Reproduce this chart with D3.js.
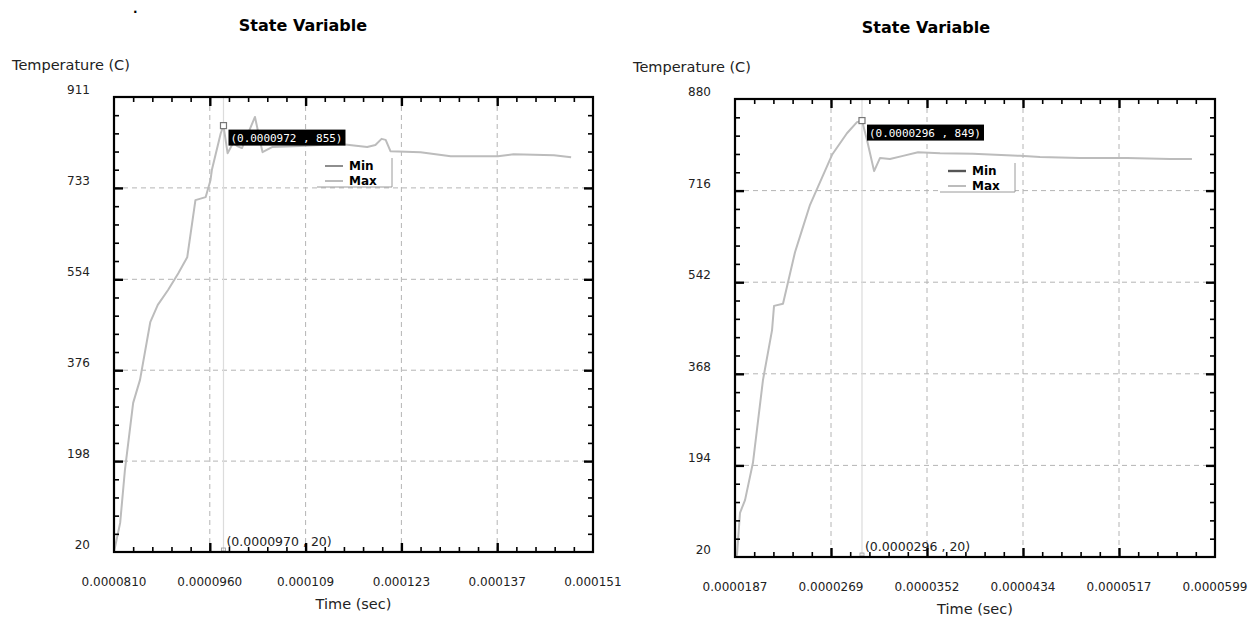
<!DOCTYPE html>
<html>
<head>
<meta charset="utf-8">
<script src="https://cdn.jsdelivr.net/npm/d3@7"></script>
<style>
  body { margin: 0; background: #fff; }
  svg { display: block; }
</style>
</head>
<body>
<svg id="chart" width="1250" height="617"></svg>
<script>
// times are in microseconds, temperatures in C

// left panel
const leftTime = [81.0, 81.9, 82.6, 83.8, 84.8, 86.3, 87.4, 88.9, 90.4, 91.7, 92.9, 94.4, 95.1, 95.3, 96.6, 97.0, 97.6, 98.4, 99.0, 99.7, 101.6, 102.7, 104.1, 108.2, 114.1, 118.0, 119.2, 120.1, 120.7, 121.4, 125.8, 130.2, 137.1, 139.4, 145.3, 147.8];
const leftMax  = [20, 77, 181, 312, 357, 470, 504, 533, 566, 597, 709, 715, 748, 768, 840, 855, 801, 821, 815, 811, 872, 803, 813, 815, 819, 813, 817, 829, 827, 805, 803, 795, 795, 799, 797, 793];
const leftXTicks = [81, 95, 109, 123, 137, 151];
const leftXLabels = ["0.0000810", "0.0000960", "0.000109", "0.000123", "0.000137", "0.000151"];
const leftYTicks = [20, 198, 376, 554, 733, 911];
const leftYLabels = ["20", "198", "376", "554", "733", "911"];

// right panel
const rightTime = [18.7, 18.87, 19.13, 19.56, 20.24, 21.10, 21.88, 22.05, 22.82, 23.25, 23.85, 24.45, 25.14, 25.82, 27.03, 28.31, 29.17, 29.6, 30.03, 30.64, 31.15, 32.0, 33.12, 34.41, 36.30, 39.13, 43.16, 44.88, 48.31, 52.35, 56.04, 57.92];
const rightMax  = [20, 24, 104, 128, 199, 356, 451, 497, 501, 542, 599, 641, 689, 723, 784, 825, 846, 849, 812, 753, 778, 776, 782, 789, 787, 786, 782, 780, 778, 778, 776, 776];
const rightXTicks = [18.7, 26.94, 35.18, 43.42, 51.66, 59.9];
const rightXLabels = ["0.0000187", "0.0000269", "0.0000352", "0.0000434", "0.0000517", "0.0000599"];
const rightYTicks = [20, 194, 368, 542, 716, 890];
const rightYLabels = ["20", "194", "368", "542", "716", "880"];

const seriesNames = ["Min", "Max"];

const svg = d3.select("#chart");
const font = "DejaVu Sans, sans-serif";

svg.append("text").attr("x", 133).attr("y", 13).attr("font-family", font)
  .attr("font-size", 12).attr("font-weight", "bold").text(".");

function drawPanel(cfg) {
  const g = svg.append("g");

  const x = d3.scaleLinear().domain(d3.extent(cfg.xTicks)).range([cfg.left, cfg.right]);
  const y = d3.scaleLinear().domain(d3.extent(cfg.yTicks)).range([cfg.bottom, cfg.top]);

  // dashed grid
  g.selectAll(".gx").data(cfg.xTicks.slice(1, -1)).enter().append("line")
    .attr("x1", d => x(d)).attr("x2", d => x(d))
    .attr("y1", cfg.top).attr("y2", cfg.bottom)
    .attr("stroke", "#b4b4b4").attr("stroke-dasharray", "5,4");
  g.selectAll(".gy").data(cfg.yTicks.slice(1, -1)).enter().append("line")
    .attr("x1", cfg.left).attr("x2", cfg.right)
    .attr("y1", d => y(d)).attr("y2", d => y(d))
    .attr("stroke", "#b4b4b4").attr("stroke-dasharray", "5,4");

  // cursor line
  g.append("line")
    .attr("x1", x(cfg.cursor)).attr("x2", x(cfg.cursor))
    .attr("y1", cfg.top).attr("y2", cfg.bottom)
    .attr("stroke", "#dcdcdc").attr("stroke-width", 1.2);

  // Max series
  const pts = cfg.time.map((t, i) => [t, cfg.max[i]]);
  const line = d3.line().x(d => x(d[0])).y(d => y(d[1]));
  g.append("path").datum(pts)
    .attr("fill", "none").attr("stroke", "#bcbcbc").attr("stroke-width", 2)
    .attr("stroke-linejoin", "round").attr("d", line);

  // legend
  const lg = g.append("g").attr("transform", "translate(" + cfg.legend[0] + "," + cfg.legend[1] + ")");
  lg.append("rect").attr("x", 0).attr("y", 0).attr("width", 75).attr("height", 29).attr("fill", "#fff");
  lg.append("polyline").attr("points", "75,0 75,29 0,29")
    .attr("fill", "none").attr("stroke", "#9a9a9a").attr("stroke-width", 1);
  seriesNames.forEach((name, i) => {
    lg.append("line").attr("x1", 8).attr("x2", 26).attr("y1", 8 + i * 15).attr("y2", 8 + i * 15)
      .attr("stroke", i === 0 ? cfg.minColor : "#bcbcbc").attr("stroke-width", i === 0 ? cfg.minWidth : 2);
    lg.append("text").attr("x", 32).attr("y", 12 + i * 15)
      .attr("font-family", font).attr("font-size", 12).attr("font-weight", "bold").text(name);
  });

  // peak marker and label
  const pk = pts[cfg.peakIndex];
  const mx = x(pk[0]), my = y(pk[1]);
  g.append("rect").attr("x", mx - 3).attr("y", my - 3).attr("width", 6).attr("height", 6)
    .attr("fill", "#fff").attr("stroke", "#777").attr("stroke-width", 1.2);
  g.append("rect").attr("x", mx + 5).attr("y", my + 4).attr("width", 117).attr("height", 16).attr("fill", "#000");
  g.append("text").attr("x", mx + 7).attr("y", my + 16)
    .attr("font-family", "DejaVu Sans Mono, monospace").attr("font-size", 11).attr("fill", "#fff")
    .attr("textLength", 112).text(cfg.peakText);

  // bottom cursor annotation
  g.append("rect").attr("x", x(cfg.cursor) - 2).attr("y", cfg.bottom - 4).attr("width", 4).attr("height", 3)
    .attr("fill", "none").attr("stroke", "#999").attr("stroke-width", 0.8);
  g.append("text").attr("x", x(cfg.cursor) + 3).attr("y", cfg.bottom - 6)
    .attr("font-family", font).attr("font-size", 12.5).attr("fill", "#222").text(cfg.cursorText);

  // frame ticks (inward, major + 4 minor per interval)
  const minorX = [], minorY = [];
  for (let i = 0; i < cfg.xTicks.length - 1; i++)
    for (let k = 1; k < 5; k++) minorX.push(cfg.xTicks[i] + (cfg.xTicks[i + 1] - cfg.xTicks[i]) * k / 5);
  for (let i = 0; i < cfg.yTicks.length - 1; i++)
    for (let k = 1; k < 5; k++) minorY.push(cfg.yTicks[i] + (cfg.yTicks[i + 1] - cfg.yTicks[i]) * k / 5);

  const addAxis = (axis, tx, ty, vals, size, width) => {
    const a = g.append("g").attr("transform", "translate(" + tx + "," + ty + ")")
      .call(axis.tickValues(vals).tickSize(size).tickSizeOuter(0).tickFormat(""));
    a.select(".domain").remove();
    a.selectAll("line").attr("stroke", "#000").attr("stroke-width", width);
  };
  [[minorX, 5, 1.6], [cfg.xTicks.slice(1, -1), 9, 2.4]].forEach(([v, s, w]) => {
    addAxis(d3.axisBottom(x), 0, cfg.top, v, s, w);
    addAxis(d3.axisTop(x), 0, cfg.bottom, v, s, w);
  });
  [[minorY, 5, 1.6], [cfg.yTicks.slice(1, -1), 9, 2.4]].forEach(([v, s, w]) => {
    addAxis(d3.axisRight(y), cfg.left, 0, v, s, w);
    addAxis(d3.axisLeft(y), cfg.right, 0, v, s, w);
  });

  g.append("rect").attr("x", cfg.left).attr("y", cfg.top)
    .attr("width", cfg.right - cfg.left).attr("height", cfg.bottom - cfg.top)
    .attr("fill", "none").attr("stroke", "#000").attr("stroke-width", 2.2);

  // tick labels
  g.selectAll(".xl").data(cfg.xTicks).enter().append("text")
    .attr("x", d => x(d)).attr("y", cfg.bottom + 34).attr("text-anchor", "middle")
    .attr("font-family", font).attr("font-size", 12).attr("fill", "#222")
    .text((d, i) => cfg.xLabels[i]);
  g.selectAll(".yl").data(cfg.yTicks).enter().append("text")
    .attr("x", cfg.left - 24).attr("y", d => y(d) - 3).attr("text-anchor", "end")
    .attr("font-family", font).attr("font-size", 12).attr("fill", "#222")
    .text((d, i) => cfg.yLabels[i]);

  // titles
  g.append("text").attr("x", cfg.titleX).attr("y", cfg.top - 66).attr("text-anchor", "middle")
    .attr("font-family", font).attr("font-size", 16).attr("font-weight", "bold").text("State Variable");
  g.append("text").attr("x", cfg.left - 102).attr("y", cfg.top - 27)
    .attr("font-family", font).attr("font-size", 14.5).attr("fill", "#222").text("Temperature (C)");
  g.append("text").attr("x", (cfg.left + cfg.right) / 2).attr("y", cfg.bottom + 57).attr("text-anchor", "middle")
    .attr("font-family", font).attr("font-size", 14.5).attr("fill", "#222").text("Time (sec)");
}

drawPanel({
  left: 114, right: 593, top: 97, bottom: 552,
  time: leftTime, max: leftMax,
  xTicks: leftXTicks, xLabels: leftXLabels, yTicks: leftYTicks, yLabels: leftYLabels,
  cursor: 97.0, cursorText: "(0.0000970 , 20)",
  peakIndex: 15, peakText: "(0.0000972 , 855)",
  legend: [317, 158], minColor: "#444", minWidth: 1.2,
  titleX: 303
});

drawPanel({
  left: 735, right: 1215, top: 99, bottom: 557,
  time: rightTime, max: rightMax,
  xTicks: rightXTicks, xLabels: rightXLabels, yTicks: rightYTicks, yLabels: rightYLabels,
  cursor: 29.6, cursorText: "(0.0000296 , 20)",
  peakIndex: 17, peakText: "(0.0000296 , 849)",
  legend: [940, 163], minColor: "#555", minWidth: 2.4,
  titleX: 926
});
</script>
</body>
</html>
